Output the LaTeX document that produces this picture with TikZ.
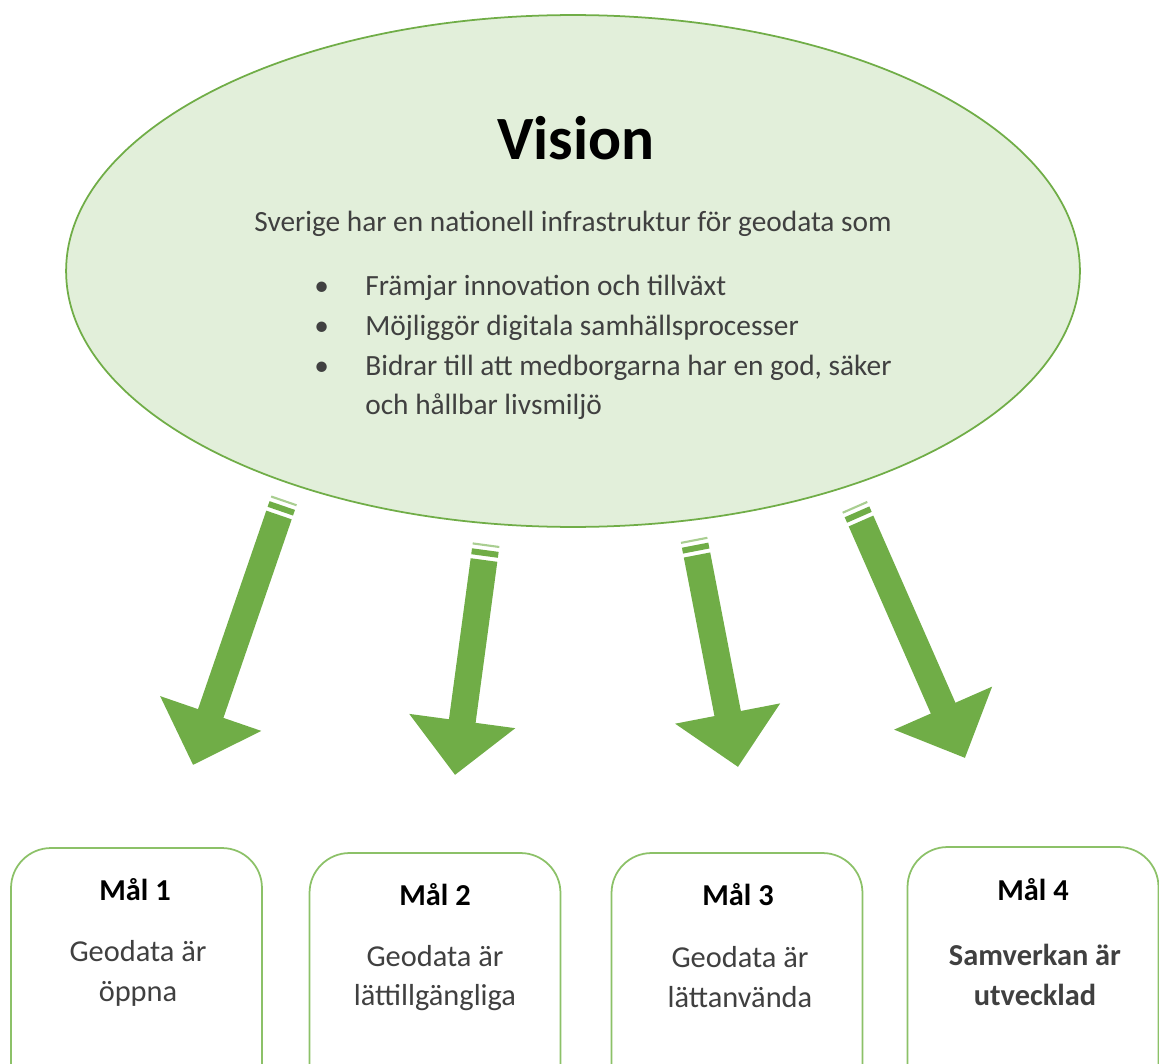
\documentclass[tikz,border=0pt]{standalone}
\usepackage{fontspec}
\setmainfont{Carlito}
\usetikzlibrary{shapes.geometric,arrows.meta,calc,positioning}
\definecolor{leafgreen}{HTML}{70AD47}
\definecolor{palegreen}{HTML}{E2EFDA}
\definecolor{boxgreen}{HTML}{8CC168}
\definecolor{textgray}{HTML}{404040}
\begin{document}
\begin{tikzpicture}[x=0.02cm, y=-0.02cm,
  goal/.style={draw=boxgreen, line width=1pt, fill=white, rounded corners=0.8cm,
    minimum width=5.02cm, minimum height=5.2cm},
  goaltitle/.style={font=\fontsize{17.3}{20}\selectfont\bfseries},
  goaltext/.style={font=\fontsize{17.3}{22.7}\selectfont, text=textgray, align=center},
  bigarrow/.style={leafgreen, line width=15.3pt, -{Triangle[length=31pt, width=59pt]}},
  stripe/.style={leafgreen, line width=15.3pt},
  thinstripe/.style={leafgreen!60, line width=15.3pt}]
\useasboundingbox (0,0) rectangle (1159,1064);
\clip (0,0) rectangle (1159,1064);
% vision
\node[ellipse, draw=leafgreen, line width=1pt, fill=palegreen,
  minimum width=20.28cm, minimum height=10.24cm] (vision) at (573,271) {};
\node[anchor=base, font=\fontsize{35}{40}\selectfont\bfseries] (title) at (576,160) {Vision};
\node[anchor=base, font=\fontsize{16.7}{22.7}\selectfont, text=textgray] (intro) at (573,232)
  {Sverige har en nationell infrastruktur för geodata som};
\node[anchor=north west, inner sep=0pt, font=\fontsize{16.7}{22.7}\selectfont, text=textgray] (list) at (314,267)
  {\begin{tabular}{@{}p{1.02cm}@{}l@{}}
   \textbullet & Främjar innovation och tillväxt\\
   \textbullet & Möjliggör digitala samhällsprocesser\\
   \textbullet & Bidrar till att medborgarna har en god, säker\\
               & och hållbar livsmiljö
   \end{tabular}};
% arrows
\coordinate (s1) at (279,515);
\coordinate (e1) at (193,765);
\coordinate (s2) at (484,560);
\coordinate (e2) at (455,775);
\coordinate (s3) at (697,555);
\coordinate (e3) at (738,767);
\coordinate (s4) at (861,521);
\coordinate (e4) at (965,758);
\draw[bigarrow] (s1) -- (e1);
\draw[stripe] ($(s1)!-5.7pt!(e1)$) -- ($(s1)!-2.3pt!(e1)$);
\draw[thinstripe] ($(s1)!-9.1pt!(e1)$) -- ($(s1)!-7.9pt!(e1)$);
\draw[bigarrow] (s2) -- (e2);
\draw[stripe] ($(s2)!-5.7pt!(e2)$) -- ($(s2)!-2.3pt!(e2)$);
\draw[thinstripe] ($(s2)!-9.1pt!(e2)$) -- ($(s2)!-7.9pt!(e2)$);
\draw[bigarrow] (s3) -- (e3);
\draw[stripe] ($(s3)!-5.7pt!(e3)$) -- ($(s3)!-2.3pt!(e3)$);
\draw[thinstripe] ($(s3)!-9.1pt!(e3)$) -- ($(s3)!-7.9pt!(e3)$);
\draw[bigarrow] (s4) -- (e4);
\draw[stripe] ($(s4)!-5.7pt!(e4)$) -- ($(s4)!-2.3pt!(e4)$);
\draw[thinstripe] ($(s4)!-9.1pt!(e4)$) -- ($(s4)!-7.9pt!(e4)$);
% goals
\node[goal] (goal1) at (136.5,978) {};
\node[goal] (goal2) at (435,983) {};
\node[goal] (goal3) at (737,983) {};
\node[goal] (goal4) at (1033,977) {};
\node[goaltitle, anchor=base] (name1) at (135,900) {Mål 1};
\node[goaltitle, anchor=base] (name2) at (435,905) {Mål 2};
\node[goaltitle, anchor=base] (name3) at (738,905) {Mål 3};
\node[goaltitle, anchor=base] (name4) at (1033,900) {Mål 4};
\node[goaltext] (text1) at (138,973) {Geodata är\\öppna};
\node[goaltext] (text2) at (435,978) {Geodata är\\lättillgängliga};
\node[goaltext] (text3) at (740,977) {Geodata är\\lättanvända};
\node[goaltext, font=\fontsize{17.3}{22.7}\selectfont\bfseries] (text4) at (1035,975) {Samverkan är\\utvecklad};
\end{tikzpicture}
\end{document}
